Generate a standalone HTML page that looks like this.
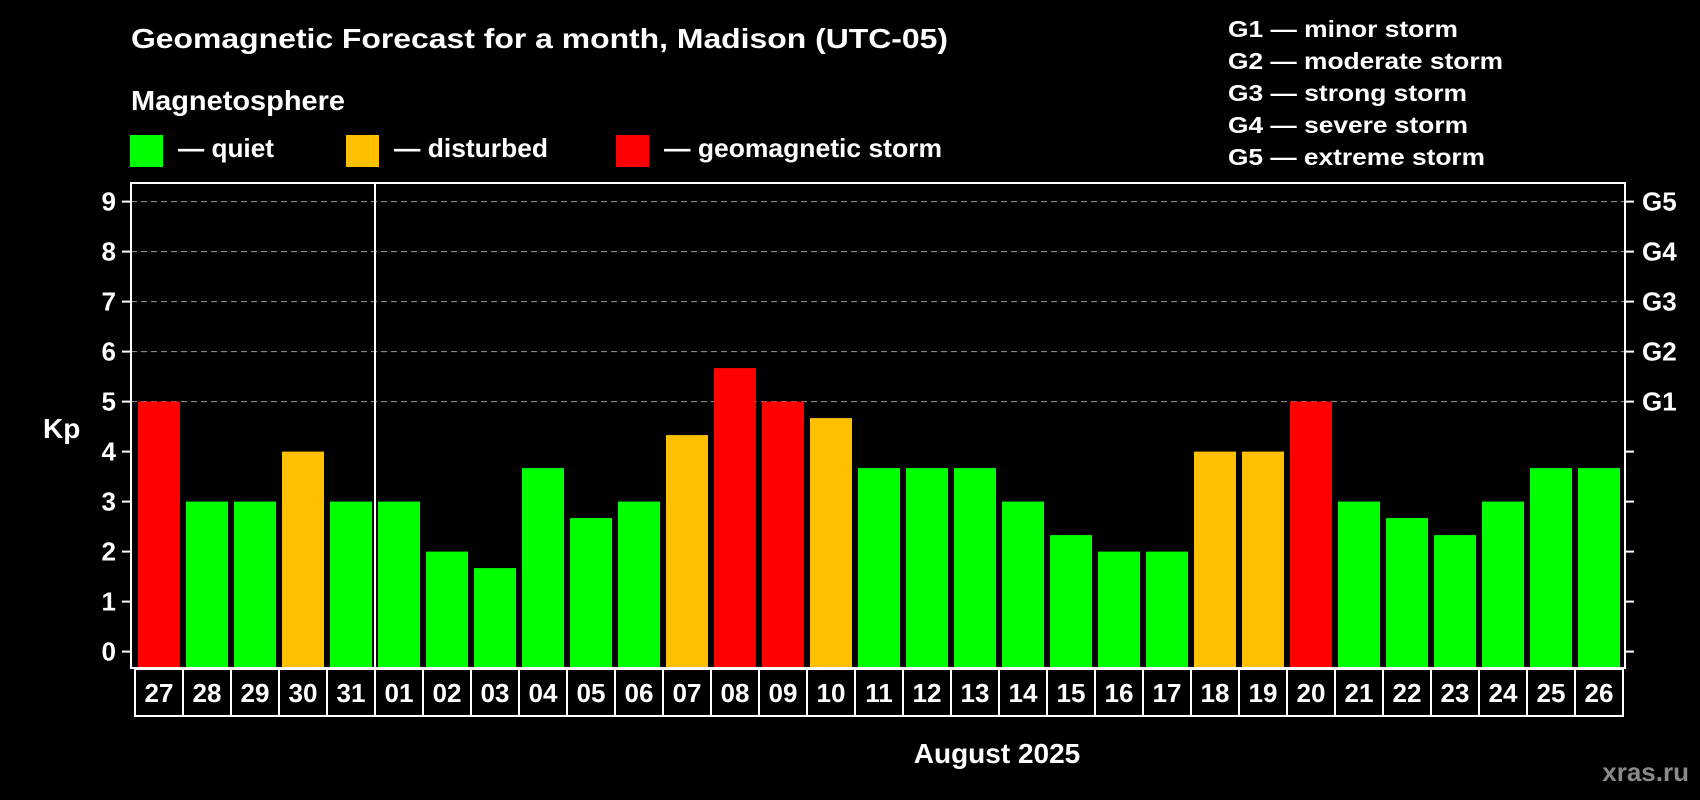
<!DOCTYPE html>
<html><head><meta charset="utf-8"><style>
html,body{margin:0;padding:0;background:#000;}
svg{display:block;font-family:"Liberation Sans",Arial,sans-serif;font-weight:bold;}
</style></head><body>
<svg id="chart" width="1700" height="800" viewBox="0 0 1700 800" xmlns="http://www.w3.org/2000/svg">
<rect width="1700" height="800" fill="#000"/>
<text x="131" y="48" font-size="28" fill="#fff" textLength="817" lengthAdjust="spacingAndGlyphs">Geomagnetic Forecast for a month, Madison (UTC-05)</text>
<text x="131" y="110" font-size="28" fill="#fff" textLength="214" lengthAdjust="spacingAndGlyphs">Magnetosphere</text>
<g>
<rect x="130" y="135" width="33" height="32" fill="#00ff00"/>
<text x="178" y="157" font-size="26" fill="#fff" textLength="96" lengthAdjust="spacingAndGlyphs">— quiet</text></g>
<g>
<rect x="346" y="135" width="33" height="32" fill="#ffc000"/>
<text x="394" y="157" font-size="26" fill="#fff" textLength="154" lengthAdjust="spacingAndGlyphs">— disturbed</text></g>
<g>
<rect x="616" y="135" width="33" height="32" fill="#ff0000"/>
<text x="664" y="157" font-size="26" fill="#fff" textLength="278" lengthAdjust="spacingAndGlyphs">— geomagnetic storm</text></g>
<g font-size="23" fill="#fff">
<text x="1228" y="37" textLength="230" lengthAdjust="spacingAndGlyphs">G1 — minor storm</text>
<text x="1228" y="69" textLength="275" lengthAdjust="spacingAndGlyphs">G2 — moderate storm</text>
<text x="1228" y="101" textLength="239" lengthAdjust="spacingAndGlyphs">G3 — strong storm</text>
<text x="1228" y="133" textLength="240" lengthAdjust="spacingAndGlyphs">G4 — severe storm</text>
<text x="1228" y="165" textLength="257" lengthAdjust="spacingAndGlyphs">G5 — extreme storm</text>
</g>
<text x="43" y="438" font-size="28" fill="#fff">Kp</text>
<text x="997" y="763" font-size="28" fill="#fff" text-anchor="middle">August 2025</text>
<text x="1689" y="781" font-size="26" fill="#8a8a8a" text-anchor="end">xras.ru</text>
<g id="grid"></g><g id="bars"></g><g id="axes"></g>
</svg>
<script>
const days = ["27","28","29","30","31","01","02","03","04","05","06","07","08","09","10","11","12","13","14","15","16","17","18","19","20","21","22","23","24","25","26"];
const kp = [5,3,3,4,3,3,2,1.67,3.67,2.67,3,4.33,5.67,5,4.67,3.67,3.67,3.67,3,2.33,2,2,4,4,5,3,2.67,2.33,3,3.67,3.67];
const yTicks = [0,1,2,3,4,5,6,7,8,9];
const gLabels = ["G1","G2","G3","G4","G5"];
const gLevels = [5,6,7,8,9];
const NS="http://www.w3.org/2000/svg";
const L=131,R=1625,T=183,B=668;
function y(v){return 651.6-50*v;}
function x(i){return 135+48*i;}
function mk(tag,attrs,parent){const e=document.createElementNS(NS,tag);for(const k in attrs)e.setAttribute(k,attrs[k]);parent.appendChild(e);return e;}
const grid=document.getElementById('grid'),bars=document.getElementById('bars'),axes=document.getElementById('axes');
gLevels.forEach((v,i)=>{
  const g=mk('line',{x1:L,x2:R,y1:y(v),y2:y(v),stroke:'#9a9a9a','stroke-width':1,'stroke-dasharray':'6 4'},grid);
  
  
  const t=mk('text',{x:1642,y:y(v)+9,'font-size':26,fill:'#fff'},axes);
  t.textContent=gLabels[i];
  
  
});
kp.forEach((v,i)=>{
  const c=v>=5?'#ff0000':(v>=4?'#ffc000':'#00ff00');
  const b=mk('rect',{x:x(i)+3,y:y(v),width:42,height:y(0)-y(v)+16.4,fill:c},bars);
  
  
  const cell=mk('rect',{x:x(i),y:669,width:48,height:47,fill:'none',stroke:'#fff','stroke-width':2},axes);
  
  
  const t=mk('text',{x:x(i)+24,y:702,'font-size':26,fill:'#fff','text-anchor':'middle'},axes);
  t.textContent=days[i];
  
  
});
const fr=mk('rect',{x:L,y:T,width:R-L,height:B-T,fill:'none',stroke:'#fff','stroke-width':2},axes);


const sep=mk('line',{x1:x(5),x2:x(5),y1:T,y2:716,stroke:'#fff','stroke-width':2},axes);


yTicks.forEach(v=>{
  mk('line',{x1:122,x2:L,y1:y(v),y2:y(v),stroke:'#fff','stroke-width':2},axes);
  mk('line',{x1:R,x2:1634,y1:y(v),y2:y(v),stroke:'#fff','stroke-width':2},axes);
  const t=mk('text',{x:116,y:y(v)+9,'font-size':26,fill:'#fff','text-anchor':'end'},axes);
  t.textContent=v;
  
  
});
</script>
</body></html>
